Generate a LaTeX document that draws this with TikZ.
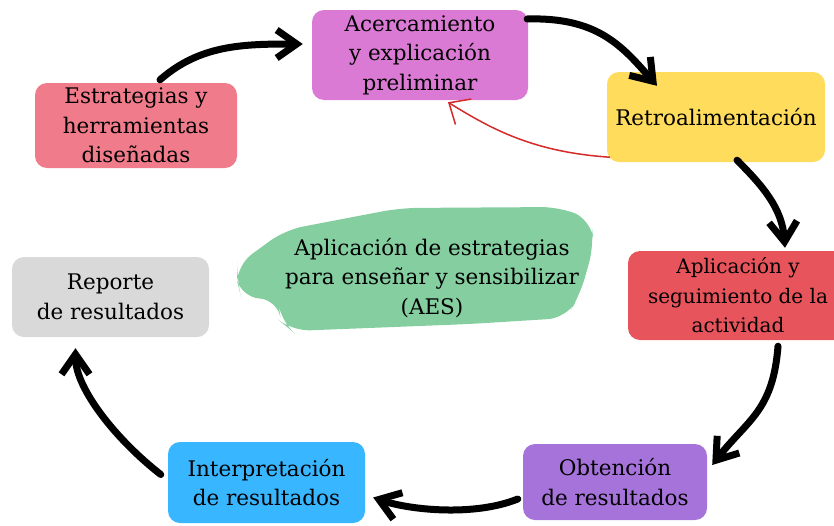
\documentclass[tikz,border=0pt]{standalone}
\usepackage{fontspec}
\setmainfont{DejaVu Serif}
\usetikzlibrary{arrows.meta,positioning}
\definecolor{CESTR}{HTML}{F07C8B}
\definecolor{CACER}{HTML}{DB7AD5}
\definecolor{CRETRO}{HTML}{FFDC5C}
\definecolor{CAPLI}{HTML}{E8545C}
\definecolor{COBT}{HTML}{A673DA}
\definecolor{CINT}{HTML}{38B6FF}
\definecolor{CREP}{HTML}{D9D9D9}
\definecolor{CAES}{HTML}{84CEA0}
\definecolor{CBACK}{HTML}{D42A2A}

\begin{document}
\begin{tikzpicture}[
  x=1pt, y=-1pt,
  font=\fontsize{21.5}{29.5}\selectfont,
  % stage box of the cycle
  stage/.style={rounded corners=12pt, align=center, inner sep=0pt, text=black},
  % thick black cycle arrow
  flow/.style={-{Straight Barb[length=20pt,width=28pt]}, line width=7pt,
               line cap=round, line join=round},
  % thin red feedback arrow
  back/.style={-{Straight Barb[length=17pt,width=30pt]}, color=CBACK, line width=1.5pt},
]
\useasboundingbox (0,0) rectangle (834,525);

% ---------- Central blob ----------
\fill[CAES, rounded corners=18pt]
  (237,265) -- (285,230) -- (400,208) -- (560,207) -- (591,220) -- (594,245)
  -- (580,295) -- (566,318) -- (470,324) -- (292,331) -- (281,322) -- (278,300)
  -- (241,297) -- (237,280) -- cycle;
\node[align=center] (AES) at (432,278)
  {Aplicación de estrategias\\para enseñar y sensibilizar\\(AES)};

% ---------- Stages of the cycle ----------
\node[stage, fill=CESTR, minimum width=202pt, minimum height=85pt] (ESTR) at (136,125.5)
  {Estrategias y\\herramientas\\diseñadas};
\node[stage, fill=CACER, minimum width=216pt, minimum height=90pt] (ACER) at (420,55)
  {Acercamiento\\y explicación\\preliminar};
\node[stage, fill=CRETRO, minimum width=218pt, minimum height=90pt] (RETRO) at (716,117)
  {Retroalimentación};
\node[stage, fill=CAPLI, minimum width=220pt, minimum height=89pt,
      font=\fontsize{20}{29.5}\selectfont] (APLI) at (738,295.5)
  {Aplicación y\\seguimiento de la\\actividad};
\node[stage, fill=COBT, minimum width=184pt, minimum height=76pt] (OBT) at (615,482)
  {Obtención\\de resultados};
\node[stage, fill=CINT, minimum width=197pt, minimum height=81pt] (INT) at (266.5,482.5)
  {Interpretación\\de resultados};
\node[stage, fill=CREP, minimum width=197pt, minimum height=80pt] (REP) at (110.5,297)
  {Reporte\\de resultados};

% ---------- Cycle arrows ----------
\draw[flow] ([xshift=24pt,yshift=3pt]ESTR.north)
  .. controls +(40,-35) and +(-60,0) .. ([xshift=-9pt,yshift=11pt]ACER.west);
\draw[flow] ([xshift=-1pt,yshift=36pt]ACER.east)
  .. controls +(70,-2) and +(-35,-40) .. ([xshift=-59pt,yshift=-14pt]RETRO.north);
\draw[flow] ([xshift=21pt,yshift=2pt]RETRO.south)
  .. controls +(25,25) and +(-3,-40) .. ([xshift=47pt,yshift=3pt]APLI.north);
\draw[flow] ([xshift=40pt,yshift=-6pt]APLI.south)
  .. controls +(-5,65) and +(35,-45) .. ([xshift=5pt,yshift=17pt]OBT.east);
\draw[flow] ([xshift=-5pt,yshift=-17pt]OBT.west)
  .. controls +(-45,18) and +(35,12) .. ([xshift=8pt,yshift=-15pt]INT.east);
\draw[flow] ([xshift=-7pt,yshift=8pt]INT.west)
  .. controls +(-45,-35) and +(0,40) .. ([xshift=-35pt,yshift=-11pt]REP.south);

% ---------- Feedback ----------
\draw[back] ([xshift=3pt,yshift=5pt]RETRO.south west)
  .. controls +(-75,-5) and +(45,28) .. ([xshift=28pt,yshift=-2pt]ACER.south);

\end{tikzpicture}
\end{document}
